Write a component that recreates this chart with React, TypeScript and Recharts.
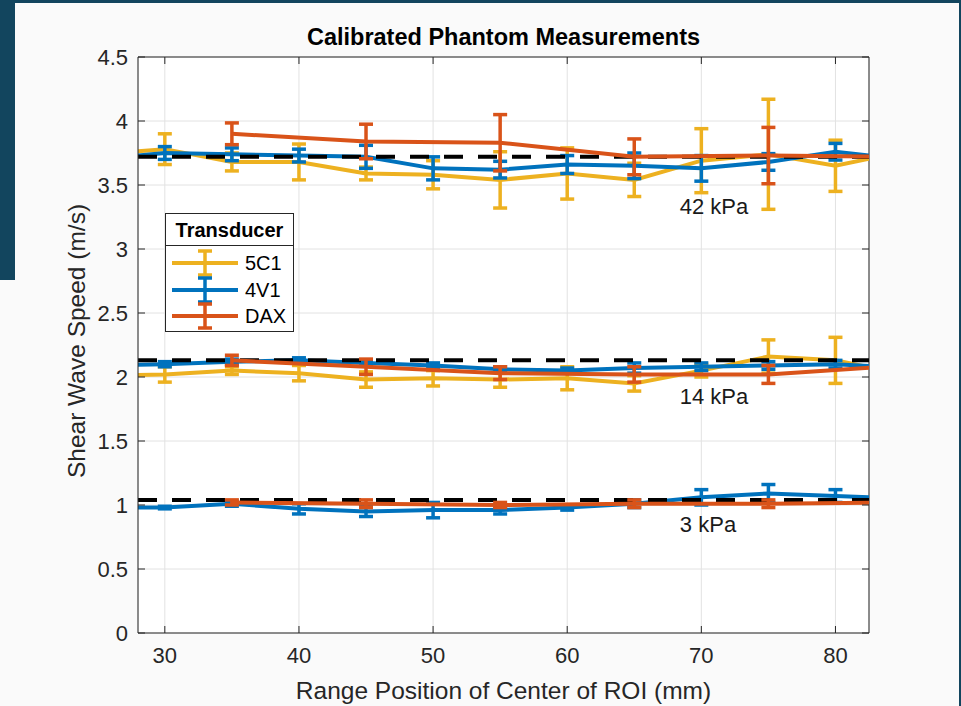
import React from 'react';
import { ComposedChart, Line, XAxis, YAxis, CartesianGrid, ErrorBar, ReferenceLine } from 'recharts';

// ---------- data ----------
const X_FULL = [25, 30, 35, 40, 45, 50, 55, 60, 65, 70, 75, 80, 85];
const X_DAX = [35, 45, 55, 65, 75, 85];

const Y_5C1_42 = [3.74, 3.78, 3.68, 3.68, 3.59, 3.58, 3.54, 3.59, 3.54, 3.69, 3.74, 3.65, 3.76];
const E_5C1_42 = [0, 0.12, 0.07, 0.14, 0.05, 0.11, 0.22, 0.2, 0.13, 0.25, 0.43, 0.2, 0];
const Y_5C1_14 = [2.01, 2.02, 2.05, 2.03, 1.98, 1.99, 1.98, 1.99, 1.95, 2.05, 2.16, 2.13, 2.02];
const E_5C1_14 = [0, 0.06, 0.03, 0.06, 0.06, 0.06, 0.06, 0.09, 0.06, 0.05, 0.13, 0.18, 0];

const Y_4V1_42 = [3.7, 3.75, 3.74, 3.73, 3.72, 3.63, 3.62, 3.66, 3.65, 3.63, 3.68, 3.76, 3.7];
const E_4V1_42 = [0, 0.05, 0.05, 0.05, 0.09, 0.09, 0.065, 0.07, 0.1, 0.1, 0.065, 0.065, 0];
const Y_4V1_14 = [2.09, 2.1, 2.12, 2.13, 2.11, 2.09, 2.06, 2.05, 2.07, 2.08, 2.09, 2.1, 2.07];
const E_4V1_14 = [0, 0.02, 0.02, 0.02, 0.02, 0.02, 0.02, 0.02, 0.04, 0.03, 0.03, 0.03, 0];
const Y_4V1_3 = [0.98, 0.98, 1.01, 0.97, 0.95, 0.96, 0.96, 0.98, 1.01, 1.06, 1.09, 1.07, 1.05];
const E_4V1_3 = [0, 0.01, 0.02, 0.04, 0.04, 0.06, 0.03, 0.02, 0.03, 0.06, 0.07, 0.05, 0];

const Y_DAX_42 = [3.9, 3.84, 3.83, 3.72, 3.73, 3.72];
const E_DAX_42 = [0.085, 0.135, 0.22, 0.14, 0.22, 0];
const Y_DAX_14 = [2.13, 2.08, 2.03, 2.02, 2.02, 2.09];
const E_DAX_14 = [0.04, 0.06, 0.05, 0.06, 0.07, 0];
const Y_DAX_3 = [1.02, 1.01, 1.0, 1.01, 1.01, 1.02];
const E_DAX_3 = [0.02, 0.03, 0.02, 0.03, 0.03, 0];

const REFERENCE_SPEEDS = [3.72, 2.13, 1.04];
const STIFFNESS_LABELS = ['42 kPa', '14 kPa', '3 kPa'];

const X_TICKS = [30, 40, 50, 60, 70, 80];
const Y_TICKS = [0, 0.5, 1, 1.5, 2, 2.5, 3, 3.5, 4, 4.5];
const X_DOMAIN = [28, 82.5];
const Y_DOMAIN = [0, 4.5];

const SERIES = [
  { name: '5C1', color: '#EDB120' },
  { name: '4V1', color: '#0072BD' },
  { name: 'DAX', color: '#D95319' },
];

const build = (xs: number[], ys: number[], es: number[]) =>
  xs.map((x, i) => ({ x, y: ys[i], e: es[i] ? es[i] : null }));

// ---------- layout ----------
const W = 961;
const H = 706;
const PLOT_L = 138;
const PLOT_R = 869;
const PLOT_T = 57;
const PLOT_B = 633;
const FONT = '"Liberation Sans", Arial, Helvetica, sans-serif';
const AXIS = '#262626';

const XTick = (props: any) => {
  const { x, payload } = props;
  return (
    <g>
      <line x1={x} x2={x} y1={PLOT_B} y2={PLOT_B - 7} stroke={AXIS} strokeWidth={1} />
      <line x1={x} x2={x} y1={PLOT_T} y2={PLOT_T + 7} stroke={AXIS} strokeWidth={1} />
      <text x={x} y={663} textAnchor="middle" fontSize={22} fill={AXIS} fontFamily={FONT}>
        {payload.value}
      </text>
    </g>
  );
};

const YTick = (props: any) => {
  const { y, payload } = props;
  return (
    <g>
      <line x1={PLOT_L} x2={PLOT_L + 7} y1={y} y2={y} stroke={AXIS} strokeWidth={1} />
      <line x1={PLOT_R} x2={PLOT_R - 7} y1={y} y2={y} stroke={AXIS} strokeWidth={1} />
      <text x={PLOT_L - 10} y={y} dy="0.36em" textAnchor="end" fontSize={22} fill={AXIS} fontFamily={FONT}>
        {payload.value}
      </text>
    </g>
  );
};

const series = (data: any[], color: string, key: string) => (
  <Line
    key={key}
    data={data}
    dataKey="y"
    type="linear"
    stroke={color}
    strokeWidth={4}
    dot={false}
    activeDot={false}
    isAnimationActive={false}
    legendType="none"
  >
    <ErrorBar dataKey="e" direction="y" width={7} stroke={color} strokeWidth={3.5} isAnimationActive={false} />
  </Line>
);

const refLine = (v: number, i: number) => (
  <Line
    key={'ref' + i}
    data={[{ x: X_DOMAIN[0], y: v }, { x: X_DOMAIN[1], y: v }]}
    dataKey="y"
    type="linear"
    stroke="#000000"
    strokeWidth={4}
    strokeDasharray="19 15"
    dot={false}
    activeDot={false}
    isAnimationActive={false}
  />
);

const LegendIcon = ({ color }: { color: string }) => (
  <svg width={66} height={28} style={{ display: 'block' }}>
    <line x1={0} x2={66} y1={14} y2={14} stroke={color} strokeWidth={4} />
    <line x1={33} x2={33} y1={1} y2={27} stroke={color} strokeWidth={3.5} />
    <line x1={26} x2={40} y1={2} y2={2} stroke={color} strokeWidth={3.5} />
    <line x1={26} x2={40} y1={26} y2={26} stroke={color} strokeWidth={3.5} />
  </svg>
);

const ANNOT_POS = [
  { left: 714, top: 207 },
  { left: 714, top: 397 },
  { left: 708, top: 525 },
];

export default function App() {
  const c = SERIES[0].color;
  const b = SERIES[1].color;
  const r = SERIES[2].color;
  return (
    <div
      style={{
        position: 'absolute',
        left: 0,
        top: 0,
        width: W,
        height: H,
        background: '#12455e',
        overflow: 'hidden',
        fontFamily: FONT,
      }}
    >
      <div style={{ position: 'absolute', left: 15, top: 3, width: 944, height: 703, background: '#fafafa' }} />
      <div style={{ position: 'absolute', left: 0, top: 280, width: 15, height: 426, background: '#fafafa' }} />
      <div style={{ position: 'absolute', left: 0, top: 0 }}>
        <ComposedChart
          width={W}
          height={H}
          margin={{ top: PLOT_T, right: W - PLOT_R, bottom: H - PLOT_B - 30, left: PLOT_L - 60 }}
        >
          <CartesianGrid stroke="#e2e2e2" strokeWidth={1} fill="#ffffff" />
          <XAxis
            type="number"
            dataKey="x"
            domain={X_DOMAIN}
            allowDataOverflow
            ticks={X_TICKS}
            interval={0}
            tick={<XTick />}
            tickLine={false}
            axisLine={{ stroke: AXIS }}
            height={30}
          />
          <YAxis
            type="number"
            domain={Y_DOMAIN}
            allowDataOverflow
            ticks={Y_TICKS}
            interval={0}
            tick={<YTick />}
            tickLine={false}
            axisLine={{ stroke: AXIS }}
            width={60}
          />
          <ReferenceLine y={Y_DOMAIN[1]} stroke={AXIS} strokeWidth={1} />
          <ReferenceLine x={X_DOMAIN[1]} stroke={AXIS} strokeWidth={1} />
          {series(build(X_FULL, Y_5C1_42, E_5C1_42), c, 'c42')}
          {series(build(X_FULL, Y_5C1_14, E_5C1_14), c, 'c14')}
          {series(build(X_FULL, Y_4V1_42, E_4V1_42), b, 'b42')}
          {series(build(X_FULL, Y_4V1_14, E_4V1_14), b, 'b14')}
          {series(build(X_FULL, Y_4V1_3, E_4V1_3), b, 'b3')}
          {REFERENCE_SPEEDS.map(refLine)}
          {series(build(X_DAX, Y_DAX_42, E_DAX_42), r, 'r42')}
          {series(build(X_DAX, Y_DAX_14, E_DAX_14), r, 'r14')}
          {series(build(X_DAX, Y_DAX_3, E_DAX_3), r, 'r3')}
        </ComposedChart>
      </div>

      {/* title */}
      <div
        style={{
          position: 'absolute',
          left: PLOT_L,
          width: PLOT_R - PLOT_L,
          top: 23,
          textAlign: 'center',
          fontSize: 23.5,
          fontWeight: 'bold',
          color: '#000',
          lineHeight: '28px',
          whiteSpace: 'nowrap',
        }}
      >
        Calibrated Phantom Measurements
      </div>

      {/* x label */}
      <div
        style={{
          position: 'absolute',
          left: PLOT_L,
          width: PLOT_R - PLOT_L,
          top: 676,
          textAlign: 'center',
          fontSize: 24.5,
          color: AXIS,
          lineHeight: '30px',
          whiteSpace: 'nowrap',
        }}
      >
        Range Position of Center of ROI (mm)
      </div>

      {/* y label */}
      <div
        style={{
          position: 'absolute',
          left: 77 - 200,
          top: 341 - 15,
          width: 400,
          height: 30,
          lineHeight: '30px',
          textAlign: 'center',
          fontSize: 24.5,
          color: AXIS,
          transform: 'rotate(-90deg)',
          whiteSpace: 'nowrap',
        }}
      >
        Shear Wave Speed (m/s)
      </div>

      {/* stiffness annotations */}
      {STIFFNESS_LABELS.map((t, i) => (
        <div
          key={t}
          style={{
            position: 'absolute',
            left: ANNOT_POS[i].left - 60,
            top: ANNOT_POS[i].top - 13,
            width: 120,
            textAlign: 'center',
            fontSize: 22,
            lineHeight: '26px',
            color: '#1a1a1a',
            whiteSpace: 'nowrap',
          }}
        >
          {t}
        </div>
      ))}

      {/* legend */}
      <div
        style={{
          position: 'absolute',
          left: 165,
          top: 213,
          width: 129,
          height: 119,
          boxSizing: 'border-box',
          border: '1px solid ' + AXIS,
          background: '#ffffff',
        }}
      >
        <div
          style={{
            height: 32,
            boxSizing: 'border-box',
            borderBottom: '1px solid ' + AXIS,
            textAlign: 'center',
            fontWeight: 'bold',
            fontSize: 20,
            lineHeight: '32px',
            color: '#000',
          }}
        >
          Transducer
        </div>
        {SERIES.map((s, i) => (
          <div
            key={s.name}
            style={{ position: 'absolute', left: 6, top: 35 + i * 26.5, height: 28, display: 'flex', alignItems: 'center' }}
          >
            <LegendIcon color={s.color} />
            <span style={{ marginLeft: 7, fontSize: 20, color: '#000', lineHeight: '28px' }}>{s.name}</span>
          </div>
        ))}
      </div>
    </div>
  );
}
